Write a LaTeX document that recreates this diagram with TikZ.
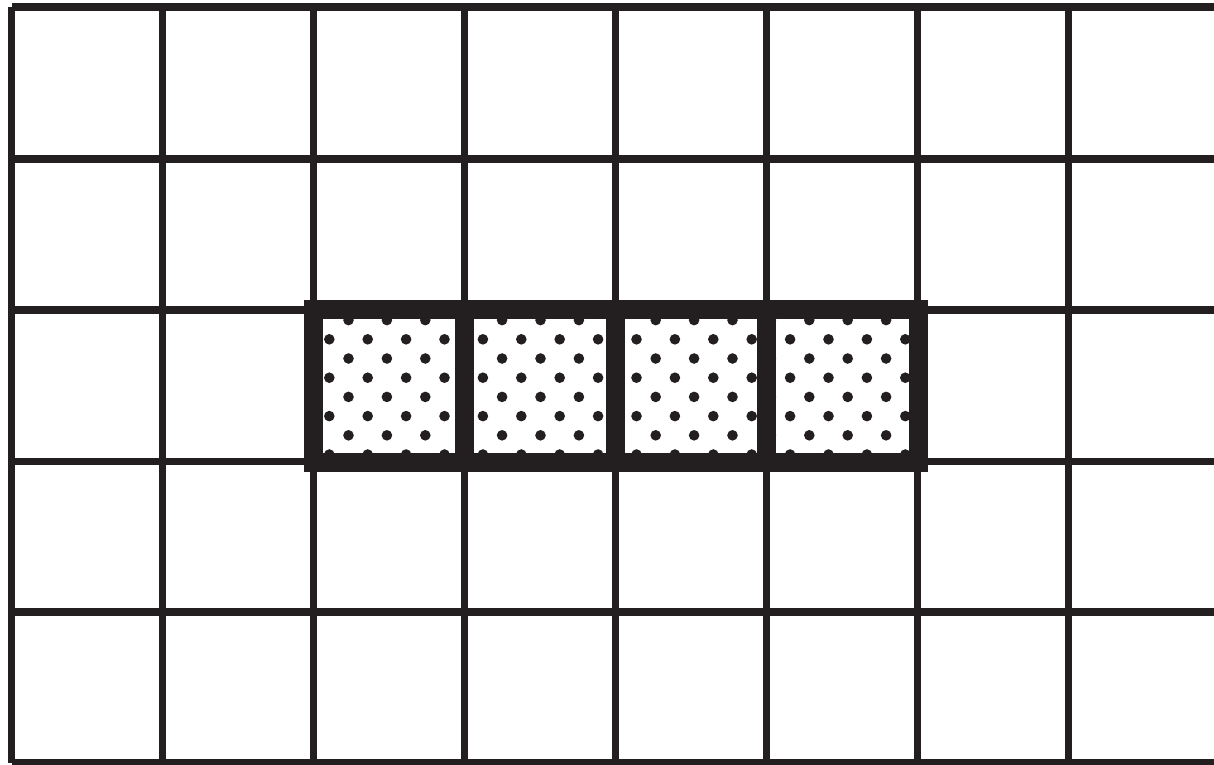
\documentclass[tikz,border=0pt]{standalone}
\definecolor{ink}{HTML}{231F20}
\begin{document}
\begin{tikzpicture}[x=1pt,y=-1pt,
  gridline/.style={draw=ink,line width=7.6pt,line cap=butt},
  boldline/.style={draw=ink,line width=19pt,line cap=butt,line join=miter},
  dotmark/.style={fill=ink}]
\useasboundingbox (0,0) rectangle (1214,764);
\begin{scope}
  \clip (0,0) rectangle (1214,764);
  \foreach \x in {11.5,162.5,313.5,464.5,615.5,766.5,917.5,1068.5}
    \draw[gridline] (\x,7.2) -- (\x,763.2);
  \foreach \y in {7.2,159,310,461.5,612,762.7}
    \draw[gridline] (11.5,\y) -- (1214,\y);
\end{scope}
% dotted fill of the four highlighted cells
\begin{scope}
  \clip (313.5,309.5) rectangle (918,462);
  \foreach \i in {0,...,15}
    \foreach \j in {0,...,3}
      \fill[dotmark] ({329.3+38.4*\i},{339.3+38.4*\j}) circle (5.3pt);
  \foreach \i in {-1,...,15}
    \foreach \j in {0,...,3}
      \fill[dotmark] ({348.5+38.4*\i},{320.1+38.4*\j}) circle (5.3pt);
\end{scope}
% bold outline of the four cells
\draw[boldline] (313.5,309.5) rectangle (918,462);
\foreach \x in {464.5,615.5,766.5}
  \draw[boldline] (\x,309.5) -- (\x,462);
\end{tikzpicture}
\end{document}
